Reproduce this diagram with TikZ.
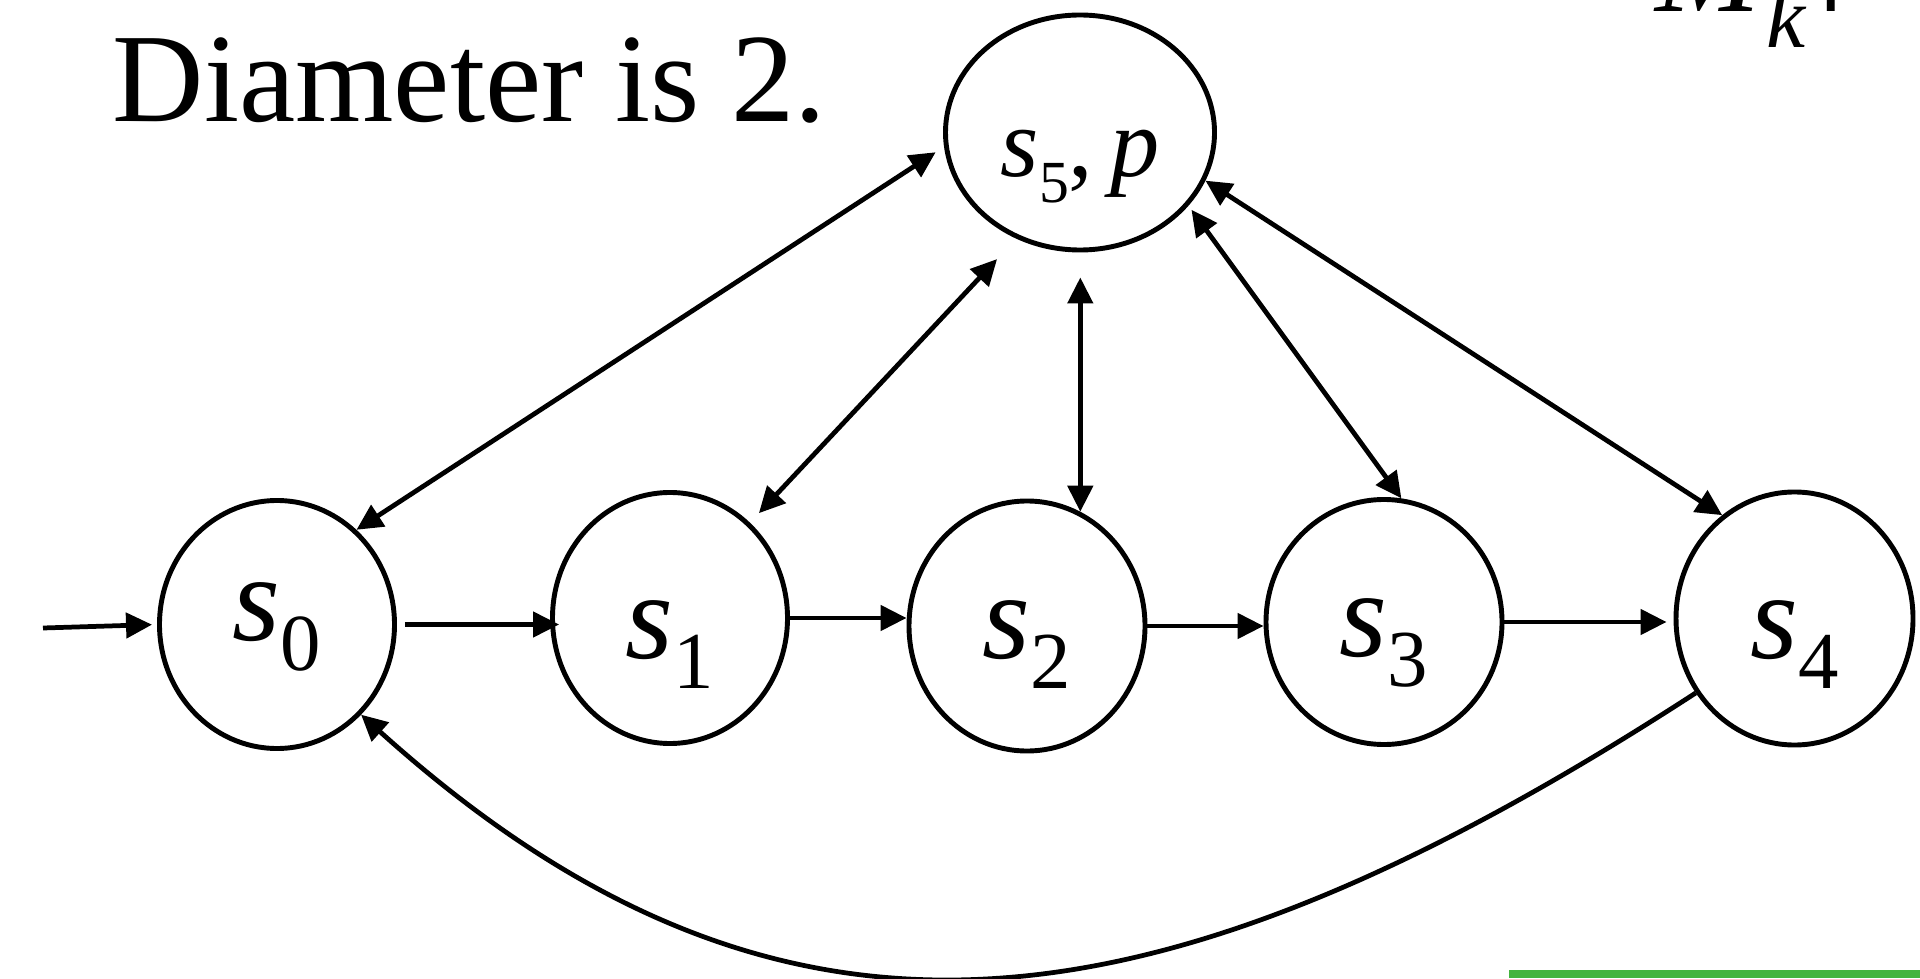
\documentclass[tikz,border=0pt]{standalone}
\usepackage{fontspec}
\setmainfont{Liberation Serif}
\newfontfamily\symfont{DejaVu Sans}
\usetikzlibrary{shapes.geometric, arrows.meta, positioning, calc}
\definecolor{slidegreen}{RGB}{68,180,62}
\newcommand{\stname}[1]{{\fontsize{35}{35}\selectfont\itshape s}\raisebox{-0.3cm}{\fontsize{23}{23}\selectfont #1}}

\begin{document}
\begin{tikzpicture}[
    state/.style={ellipse, draw, line width=1.4pt, inner sep=0pt, minimum width=2.35cm, minimum height=2.48cm, text depth=0.3cm},
    arr/.style={-{Triangle[length=0.26cm, width=0.25cm]}, line width=1.35pt},
    biarr/.style={{Triangle[length=0.26cm, width=0.25cm]}-{Triangle[length=0.26cm, width=0.25cm]}, line width=1.35pt}
]
    \useasboundingbox (0,0) rectangle (19.2,9.78);

    % States
    \node[state, text height=0.61cm] (s0) at (2.77,3.535) {\stname{0}};
    \node[state, text height=1.1cm, minimum height=2.51cm] (s1) at (6.70,3.60) {\stname{1}};
    \node[state, text height=0.94cm, minimum width=2.36cm, minimum height=2.50cm] (s2) at (10.27,3.52) {\stname{2}};
    \node[state, text height=0.98cm, minimum width=2.36cm, minimum height=2.45cm] (s3) at (13.84,3.56) {\stname{3}};
    \node[state, text height=1.1cm, minimum width=2.37cm, minimum height=2.53cm] (s4) at (17.945,3.595) {\stname{4}};
    \node[state, text height=1.14cm, text depth=0.26cm, minimum width=2.69cm, minimum height=2.35cm] (s5) at (10.80,8.455)
        {{\fontsize{28}{28}\selectfont\itshape s}\raisebox{-0.26cm}{\fontsize{17}{17}\selectfont 5}{\fontsize{28}{28}\selectfont,\,\itshape p}};

    % Initial arrow
    \coordinate (init) at (0.43,3.50);
    \draw[arr, shorten >=0.05cm] (init) -- (s0.west);

    % Path s0 -> s4
    \draw[arr, shorten <=0.08cm, shorten >=-0.09cm] (s0.east) -- (s0.east -| s1.west);
    \draw[arr] (s1.east) -- (s1.east -| s2.west);
    \draw[arr] (s2.east) -- (s2.east -| s3.west);
    \draw[arr, shorten >=0.07cm] (s3.east) -- (s3.east -| s4.west);

    % Back edge
    \draw[arr] (s4.217) .. controls +(213:6.5) and +(318:5.6) .. (s0.313);

    % Edges to s5
    \draw[biarr, shorten <=0.1cm] (s5.186) -- (s0.50);
    \draw[biarr, shorten <=0.28cm, shorten >=0.13cm] (s5.239) -- (s1.50);
    \draw[biarr, shorten <=0.25cm] (s2.65 |- s5.south) -- (s2.65);
    \draw[biarr, shorten <=0.05cm] (s5.326) -- (s3.82);
    \draw[biarr] (s5.339) -- (s4.125);

    % Texts
    \node[anchor=base west, inner sep=0pt, font=\fontsize{36}{36}\selectfont] (title) at (1.12,8.56) {Diameter is 2.};
    \node[anchor=base west, inner sep=0pt, font=\fontsize{36}{36}\selectfont] (mk) at (16.55,9.66)
        {\textit{M}\raisebox{-0.36cm}{\fontsize{25}{25}\selectfont\textit{k}}};
    \node[anchor=base west, inner sep=0pt, font=\fontsize{36}{36}\selectfont\symfont] (models) at (18.16,9.66) {⊨};

    % Green bar
    \fill[slidegreen] (15.09,0) rectangle (19.2,0.08);
\end{tikzpicture}
\end{document}
